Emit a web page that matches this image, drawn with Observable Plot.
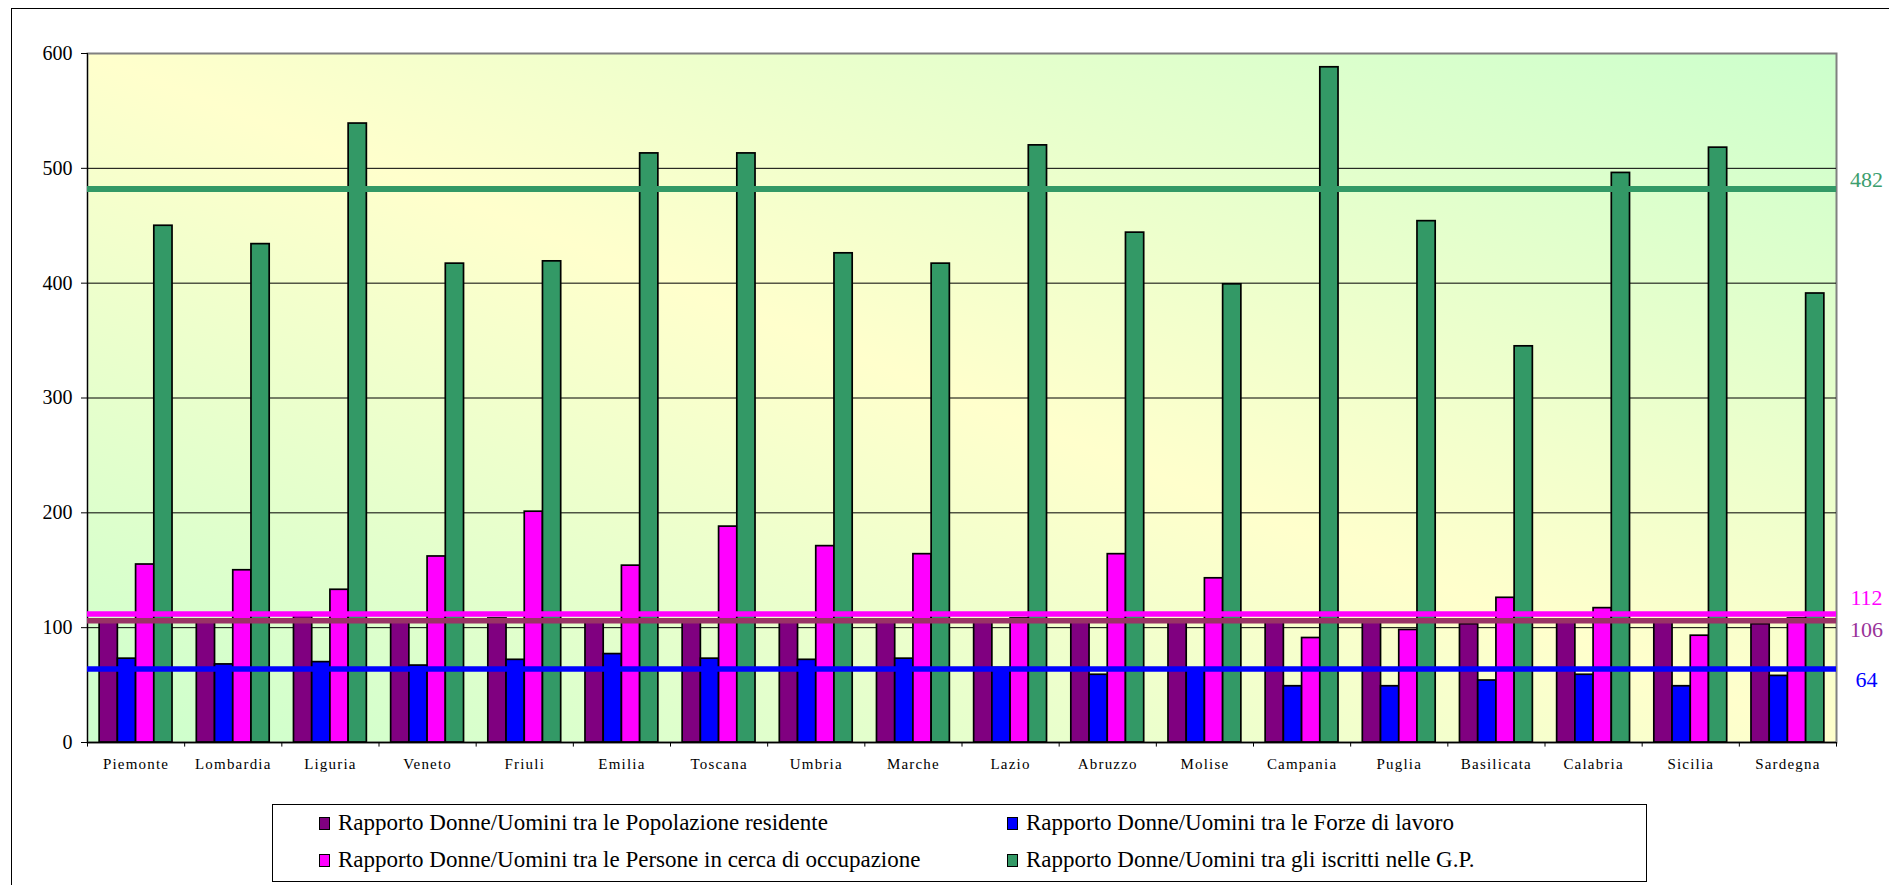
<!DOCTYPE html>
<html><head><meta charset="utf-8">
<script src="https://cdn.jsdelivr.net/npm/d3@7"></script>
<script src="https://cdn.jsdelivr.net/npm/@observablehq/plot@0.6"></script>
<style>
html,body{margin:0;background:#fff;overflow:hidden}
body{width:1889px;height:885px;position:relative;font-family:"Liberation Serif","Times New Roman",serif}
#chart{position:absolute;left:0;top:0}
#border{position:absolute;left:11px;top:8px;width:1878px;height:877px;border-left:1.5px solid #000;border-top:1.5px solid #000;box-sizing:border-box;pointer-events:none}
#legend{position:absolute;left:272px;top:804px;width:1375px;height:78px;border:1.5px solid #000;box-sizing:border-box;background:#fff}
.item{position:absolute;display:flex;align-items:center;font-size:23px;white-space:nowrap;transform:translateY(-50%);color:#000;font-family:"Liberation Serif","Times New Roman",serif}
.sw{width:9px;height:11px;border:1.5px solid #000;margin-right:8px;box-sizing:content-box}
#chart g[aria-label="x-axis tick label"] text{letter-spacing:1.2px}
</style></head><body>
<div id="chart"></div>
<div id="border"></div>
<div id="legend"></div>
<script>
const regions = ["Piemonte","Lombardia","Liguria","Veneto","Friuli","Emilia","Toscana","Umbria","Marche","Lazio","Abruzzo","Molise","Campania","Puglia","Basilicata","Calabria","Sicilia","Sardegna"];
const popolazione = [105, 105, 110, 105, 108, 105, 105, 105, 105, 106, 106, 105, 105, 105, 103, 105, 105, 103];
const forzeLavoro = [73, 68, 70, 67, 72, 77, 73, 72, 73, 65, 59, 63, 49, 49, 54, 59, 49, 58];
const cercaOccupazione = [155, 150, 133, 162, 201, 154, 188, 171, 164, 108, 164, 143, 91, 98, 126, 117, 93, 108];
const iscrittiGP = [450, 434, 539, 417, 419, 513, 513, 426, 417, 520, 444, 399, 588, 454, 345, 496, 518, 391];
const seriesNames = [
  "Rapporto Donne/Uomini tra le Popolazione residente",
  "Rapporto Donne/Uomini tra le Forze di lavoro",
  "Rapporto Donne/Uomini tra le Persone in cerca di occupazione",
  "Rapporto Donne/Uomini tra gli iscritti nelle G.P."
];
const seriesColors = ["#800080", "#0000FF", "#FF00FF", "#339966"];
const refValues = [482, 112, 106, 64];
const refLabels = ["482", "112", "106", "64"];
const refColors = ["#339966", "#FF00FF", "#993366", "#0000FF"];
const refTextColors = ["#3C9E6E", "#FF00FF", "#993399", "#0000FF"];
const yTicks = [0, 100, 200, 300, 400, 500, 600];

const allSeries = [popolazione, forzeLavoro, cercaOccupazione, iscrittiGP];

const W = 1889, H = 790, mL = 87, mR = 53, mT = 53, mB = 48;
const bw = (W - mL - mR) / regions.length;
const barW = bw * 0.1875;
const off = (bw - 4 * barW) / 2;

const gradientDefs = () => {
  const defs = d3.create("svg:defs");
  const g = defs.append("linearGradient").attr("id", "bg")
    .attr("x1", 0).attr("y1", 1).attr("x2", 1).attr("y2", 0);
  g.append("stop").attr("offset", "0%").attr("stop-color", "#CCFFCC");
  g.append("stop").attr("offset", "50%").attr("stop-color", "#FFFFCC");
  g.append("stop").attr("offset", "100%").attr("stop-color", "#CCFFCC");
  return defs.node();
};

const barMarks = allSeries.map((vals, k) => Plot.barY(
  regions.map((r, i) => ({region: r, value: vals[i]})),
  {x: "region", y: "value", fill: seriesColors[k], stroke: "#000", strokeWidth: 1.7,
   insetLeft: off + k * barW, insetRight: bw - off - (k + 1) * barW}
));

const refOffsets = [-9, -16, 9, 11];
const refMarks = refValues.map((v, i) => Plot.ruleY([v], {stroke: refColors[i], strokeWidth: i === 0 ? 6 : 5.5}));
const refTextMarks = refValues.map((v, i) => Plot.text([refLabels[i]], {
  y: () => v, text: d => d, frameAnchor: "right", dx: 30, dy: refOffsets[i],
  fill: refTextColors[i], fontSize: 22, textAnchor: "middle"
}));

const chart = Plot.plot({
  width: W, height: H,
  marginLeft: mL, marginRight: mR, marginTop: mT, marginBottom: mB,
  style: {fontFamily: "'Liberation Serif', 'Times New Roman', serif", background: "transparent", overflow: "visible"},
  x: {type: "band", domain: regions, padding: 0, round: false},
  y: {domain: [0, 600], range: [H - mB, mT]},
  marks: [
    gradientDefs,
    Plot.frame({fill: "url(#bg)", stroke: "#808080", strokeWidth: 2}),
    Plot.gridY(yTicks.slice(1, -1), {stroke: "#000", strokeOpacity: 1, strokeWidth: 1}),
    ...barMarks,
    Plot.ruleX([0], {x: () => regions[0], dx: -bw / 2, y1: 0, y2: 600, stroke: "#000", strokeWidth: 1}),
    Plot.ruleY([0], {stroke: "#000", strokeWidth: 1.5}),
    Plot.ruleX(regions, {x: d => d, dx: -bw / 2, y1: 0, y2: -4, stroke: "#000"}),
    Plot.ruleX([regions[regions.length - 1]], {x: d => d, dx: bw / 2, y1: 0, y2: -4, stroke: "#000"}),
    ...refMarks,
    ...refTextMarks,
    Plot.axisY(yTicks, {tickSize: 6, tickPadding: 9, fontSize: 20, stroke: "#000", fill: "#000", label: null}),
    Plot.axisX({tickSize: 0, tickPadding: 16, fontSize: 15, fill: "#000", label: null})
  ]
});
document.getElementById("chart").appendChild(chart);

const legend = document.getElementById("legend");
const positions = [[46, 18], [734, 18], [46, 55], [734, 55]];
seriesNames.forEach((name, k) => {
  const item = document.createElement("div");
  item.className = "item";
  item.style.left = positions[k][0] + "px";
  item.style.top = positions[k][1] + "px";
  const sw = document.createElement("span");
  sw.className = "sw";
  sw.style.background = seriesColors[k];
  const t = document.createElement("span");
  t.textContent = name;
  item.appendChild(sw);
  item.appendChild(t);
  legend.appendChild(item);
});
</script>
</body></html>
